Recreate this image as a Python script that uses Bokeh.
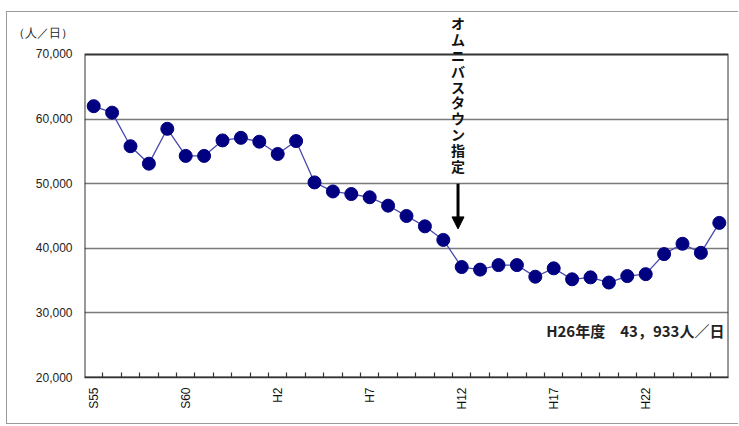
from math import pi
from bokeh.plotting import figure
from bokeh.models import (Range1d, FixedTicker, NumeralTickFormatter, Label,
                          Arrow, NormalHead, ColumnDataSource, BoxAnnotation)
from bokeh.embed import file_html
from bokeh.resources import INLINE

# ---- data ----
years = ["S55", "S56", "S57", "S58", "S59", "S60", "S61", "S62", "S63",
         "H1", "H2", "H3", "H4", "H5", "H6", "H7", "H8", "H9", "H10",
         "H11", "H12", "H13", "H14", "H15", "H16", "H17", "H18", "H19",
         "H20", "H21", "H22", "H23", "H24", "H25", "H26"]
riders = [62000, 61000, 55800, 53100, 58500, 54300, 54300, 56700, 57100,
          56500, 54600, 56600, 50200, 48800, 48400, 47900, 46600, 45000,
          43400, 41300, 37100, 36700, 37400, 37400, 35600, 36900, 35200,
          35500, 34700, 35700, 36000, 39100, 40700, 39300, 43933]
tick_years = ["S55", "S60", "H2", "H7", "H12", "H17", "H22"]
y_min, y_max = 20000, 70000
y_ticks = [20000, 30000, 40000, 50000, 60000, 70000]
grid_ticks = [30000, 40000, 50000, 60000]

annot_text = "オムニバスタウン指定"
annot_year_pos = 19.8          # between H11 and H12
arrow_from, arrow_to = 50000, 43000
note_text = "H26年度　43，933人／日"
unit_text = "（人／日）"
unit_pos = 73400               # where the unit caption sits on the value scale
top_space = 76500              # room above the plot box for the vertical caption

xs = list(range(len(years)))
src = ColumnDataSource(dict(x=xs, y=riders, year=years))
x_lo, x_hi = -0.5, len(years) - 0.5

p = figure(width=732, height=413, output_backend="svg", toolbar_location=None,
           x_range=Range1d(x_lo, x_hi), y_range=Range1d(y_min, top_space),
           min_border_left=77, min_border_right=11, min_border_top=0,
           min_border_bottom=48)
p.margin = (11, 0, 0, 6)
p.styles = {"border": "1px solid #9a9a9a", "border-right": "none"}
p.background_fill_color = "white"
p.border_fill_color = "white"
p.outline_line_color = None

# plot box
p.add_layout(BoxAnnotation(left=x_lo, right=x_hi, bottom=y_min, top=y_max,
                           fill_alpha=0, line_color="#333333", line_alpha=1.0,
                           line_width=2, level="underlay"))

# x axis
pos = [years.index(t) for t in tick_years]
p.xaxis.ticker = FixedTicker(ticks=pos, minor_ticks=[i + 0.5 for i in range(len(years) - 1)])
p.xaxis.major_label_overrides = {i: years[i] for i in pos}
p.xaxis.major_label_orientation = pi / 2
p.xaxis.major_tick_line_color = None
p.xaxis.major_tick_in = 0
p.xaxis.major_tick_out = 0
p.xaxis.minor_tick_in = 5
p.xaxis.minor_tick_out = 0
p.xaxis.minor_tick_line_color = "#333333"
p.xaxis.minor_tick_line_width = 1.2
p.xaxis.axis_line_color = "#333333"
p.xaxis.axis_line_width = 1.5
p.xaxis.major_label_standoff = 10
p.xaxis.major_label_text_font = "Liberation Sans"
p.xaxis.major_label_text_font_size = "12px"
p.xaxis.major_label_text_color = "#111111"

# y axis
p.yaxis.ticker = FixedTicker(ticks=y_ticks + [unit_pos])
p.yaxis.formatter = NumeralTickFormatter(format="0,0")
p.yaxis.major_label_overrides = {unit_pos: unit_text}
p.yaxis.major_tick_line_color = None
p.yaxis.minor_tick_line_color = None
p.yaxis.major_tick_in = 0
p.yaxis.major_tick_out = 0
p.yaxis.axis_line_color = None
p.yaxis.major_label_standoff = 12
p.yaxis.major_label_text_font = "Liberation Sans"
p.yaxis.major_label_text_font_size = "12px"
p.yaxis.major_label_text_color = "#222222"

p.xgrid.grid_line_color = None
p.ygrid.ticker = FixedTicker(ticks=grid_ticks)
p.ygrid.grid_line_color = "#7a7a7a"
p.ygrid.grid_line_width = 1.5

p.line("x", "y", source=src, line_color="#4848b0", line_width=1.3)
p.scatter("x", "y", source=src, size=13, fill_color="#000080", line_color="#000080")

p.add_layout(Label(x=annot_year_pos, y=top_space - 150, text="\n".join(annot_text),
                   text_align="center", text_baseline="top",
                   text_font="Noto Sans CJK JP", text_font_style="bold",
                   text_font_size="14px", text_line_height=0.79, text_color="#111111"))
p.add_layout(Arrow(x_start=annot_year_pos, y_start=arrow_from, x_end=annot_year_pos,
                   y_end=arrow_to, line_width=3, line_color="black",
                   end=NormalHead(size=12, fill_color="black", line_color="black")))
p.add_layout(Label(x=x_hi - 0.22, y=27300, text=note_text, text_align="right",
                   text_baseline="middle", text_font="Noto Sans CJK JP",
                   text_font_style="bold", text_font_size="15px", text_color="#222222"))

open("out.html", "w").write(file_html(p, INLINE))
